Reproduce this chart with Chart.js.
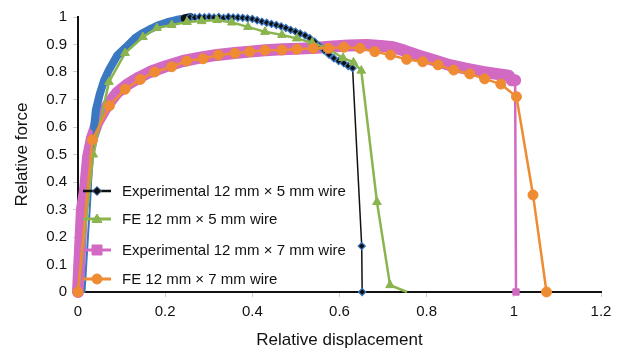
<!DOCTYPE html>
<html>
<head>
<meta charset="utf-8">
<script src="https://cdn.jsdelivr.net/npm/chart.js@4/dist/chart.umd.min.js"></script>
<style>
  html, body { margin: 0; padding: 0; background: #ffffff; }
  #wrap { width: 624px; height: 353px; }
</style>
</head>
<body>
<div id="wrap"><canvas id="c" width="624" height="353"></canvas></div>
<script>
// ---------------- data ----------------
const seriesLabels = [
  'Experimental 12 mm \u00d7 5 mm wire',
  'FE 12 mm \u00d7 5 mm wire',
  'Experimental 12 mm \u00d7 7 mm wire',
  'FE 12 mm \u00d7 7 mm wire'
];

const exp5X = [0.015, 0.022, 0.028, 0.033, 0.037, 0.041, 0.05, 0.06, 0.071, 0.09, 0.11, 0.13, 0.149, 0.168, 0.186, 0.205, 0.225, 0.245,
  0.257, 0.268, 0.279, 0.29, 0.301, 0.312, 0.323, 0.334, 0.345, 0.356, 0.367, 0.378, 0.389, 0.4, 0.411, 0.422, 0.433, 0.444, 0.455,
  0.466, 0.477, 0.488, 0.499, 0.51, 0.521, 0.532, 0.543, 0.554, 0.565, 0.576, 0.587, 0.598, 0.61, 0.62, 0.63, 0.651, 0.652];
const exp5Y = [0, 0.18, 0.33, 0.5, 0.6, 0.662, 0.72, 0.77, 0.807, 0.86, 0.89, 0.922, 0.942, 0.958, 0.971, 0.981, 0.989, 0.995,
  1.0, 0.998, 1.0, 0.999, 1.0, 0.998, 1.0, 0.997, 1.0, 0.998, 0.998, 0.997, 0.995, 0.993, 0.988, 0.983, 0.979, 0.975, 0.971,
  0.966, 0.96, 0.953, 0.947, 0.94, 0.933, 0.923, 0.91, 0.895, 0.878, 0.863, 0.85, 0.84, 0.832, 0.822, 0.814, 0.167, 0];

const fe5X = [0, 0.035, 0.071, 0.108, 0.149, 0.181, 0.215, 0.25, 0.284, 0.319, 0.353, 0.39, 0.429, 0.468, 0.502, 0.537, 0.573, 0.608, 0.632, 0.65, 0.686, 0.716, 0.755];
const fe5Y = [0, 0.5, 0.764, 0.869, 0.927, 0.96, 0.971, 0.982, 0.985, 0.989, 0.98, 0.964, 0.946, 0.935, 0.922, 0.907, 0.885, 0.851, 0.835, 0.805, 0.327, 0.025, 0];

const exp7X = [0, 0.009, 0.016, 0.023, 0.032, 0.044, 0.06, 0.075, 0.09, 0.112, 0.14, 0.165, 0.2, 0.241, 0.28, 0.319, 0.36, 0.394, 0.43, 0.47,
  0.51, 0.548, 0.585, 0.62, 0.662, 0.695, 0.723, 0.75, 0.777, 0.815, 0.853, 0.89, 0.929, 0.96, 0.988, 0.995, 1.003, 1.005];
const exp7Y = [0, 0.3, 0.37, 0.49, 0.56, 0.615, 0.66, 0.695, 0.725, 0.753, 0.78, 0.8, 0.82, 0.84, 0.852, 0.862, 0.869, 0.874, 0.879, 0.883,
  0.885, 0.888, 0.893, 0.896, 0.898, 0.895, 0.89, 0.877, 0.862, 0.844, 0.825, 0.812, 0.8, 0.793, 0.787, 0.77, 0.77, 0];

const fe7X = [0, 0.033, 0.072, 0.108, 0.143, 0.176, 0.215, 0.249, 0.287, 0.322, 0.36, 0.394, 0.429, 0.468, 0.502, 0.54, 0.575, 0.61,
  0.647, 0.681, 0.717, 0.754, 0.791, 0.826, 0.862, 0.899, 0.933, 0.97, 1.006, 1.044, 1.075];
const fe7Y = [0, 0.553, 0.677, 0.737, 0.773, 0.8, 0.819, 0.84, 0.848, 0.862, 0.868, 0.874, 0.879, 0.88, 0.883, 0.886, 0.886, 0.89,
  0.886, 0.874, 0.862, 0.846, 0.837, 0.826, 0.807, 0.793, 0.775, 0.756, 0.71, 0.353, 0];

const xTicks = [0, 0.2, 0.4, 0.6, 0.8, 1, 1.2];
const yTicks = [0, 0.1, 0.2, 0.3, 0.4, 0.5, 0.6, 0.7, 0.8, 0.9, 1];
const xTitle = 'Relative displacement';
const yTitle = 'Relative force';

// ---------------- styles ----------------
const BLACK = '#111111', BLUE = '#3a78c2', GREEN = '#8ab44d', PINK = '#d26ac3', ORANGE = '#ee8b33';
const FONT = '"Liberation Sans", Arial, sans-serif';

function pts(xs, ys) { return xs.map((x, i) => ({ x: x, y: ys[i] })); }

const datasets = [
  {
    label: seriesLabels[0], data: pts(exp5X, exp5Y), showLine: true, order: 2, clip: false,
    borderColor: BLACK, borderWidth: 1.5, borderCapStyle: 'round', borderJoinStyle: 'round',
    pointStyle: 'rectRot', pointBackgroundColor: BLACK, pointBorderColor: BLUE, pointBorderWidth: 1.2,
    pointRadius: ctx => (ctx.parsed && ctx.parsed.x >= 0.25 ? 3.6 : 0),
    segment: {
      borderColor: ctx => (ctx.p1.parsed.x <= 0.25 ? BLUE : BLACK),
      borderWidth: ctx => (ctx.p1.parsed.x <= 0.26 && ctx.p0.parsed.y >= 0.6 ? 8 : (ctx.p1.parsed.x <= 0.25 ? 2 : 1.5))
    }
  },
  {
    label: seriesLabels[1], data: pts(fe5X, fe5Y), showLine: true, order: 1, clip: false,
    borderColor: GREEN, borderWidth: 2.5,
    pointStyle: 'triangle', pointBackgroundColor: GREEN, pointBorderColor: GREEN, pointBorderWidth: 1,
    pointRadius: ctx => (ctx.dataIndex === 0 || ctx.dataIndex === fe5X.length - 1 ? 0 : 5)
  },
  {
    label: seriesLabels[2], data: pts(exp7X, exp7Y), showLine: true, order: 3, clip: false,
    borderColor: PINK, borderWidth: 12, borderCapStyle: 'round', borderJoinStyle: 'round',
    pointStyle: 'rect', pointBackgroundColor: PINK, pointBorderColor: PINK, pointBorderWidth: 1,
    pointRadius: ctx => (ctx.dataIndex === exp7X.length - 1 ? 4.5 : 0),
    segment: {
      borderWidth: ctx => (ctx.p1.parsed.y < 0.3 && ctx.p0.parsed.x > 0.5 ? 2.5 : 12)
    }
  },
  {
    label: seriesLabels[3], data: pts(fe7X, fe7Y), showLine: true, order: 0, clip: false,
    borderColor: ORANGE, borderWidth: 2.5,
    pointStyle: 'circle', pointBackgroundColor: ORANGE, pointBorderColor: ORANGE, pointBorderWidth: 1,
    pointRadius: 5
  }
];

const legendStyle = [
  { color: BLACK, lw: 2.5, marker: 'diamond', fill: BLACK, stroke: BLUE, r: 4.5 },
  { color: GREEN, lw: 3, marker: 'triangle', fill: GREEN, stroke: GREEN, r: 5 },
  { color: PINK, lw: 3, marker: 'square', fill: PINK, stroke: PINK, r: 5 },
  { color: ORANGE, lw: 3, marker: 'circle', fill: ORANGE, stroke: ORANGE, r: 5 }
];

const insideLegend = {
  id: 'insideLegend',
  afterDraw(chart) {
    const ctx = chart.ctx;
    const rows = [191, 219, 250, 279];
    const x0 = 83, x1 = 111, mx = 97, tx = 122;
    chart.data.datasets.forEach((ds, i) => {
      const s = legendStyle[i], y = rows[i];
      ctx.save();
      ctx.strokeStyle = s.color; ctx.lineWidth = s.lw;
      ctx.beginPath(); ctx.moveTo(x0, y); ctx.lineTo(x1, y); ctx.stroke();
      ctx.fillStyle = s.fill; ctx.strokeStyle = s.stroke; ctx.lineWidth = 1;
      ctx.beginPath();
      const r = s.r;
      if (s.marker === 'diamond') {
        ctx.moveTo(mx, y - r); ctx.lineTo(mx + r, y); ctx.lineTo(mx, y + r); ctx.lineTo(mx - r, y); ctx.closePath();
      } else if (s.marker === 'triangle') {
        ctx.moveTo(mx, y - r); ctx.lineTo(mx + r, y + r * 0.7); ctx.lineTo(mx - r, y + r * 0.7); ctx.closePath();
      } else if (s.marker === 'square') {
        ctx.rect(mx - r, y - r, 2 * r, 2 * r);
      } else {
        ctx.arc(mx, y, r, 0, Math.PI * 2);
      }
      ctx.fill(); ctx.stroke();
      ctx.fillStyle = '#111111';
      ctx.font = '15px ' + FONT;
      ctx.textBaseline = 'middle';
      ctx.textAlign = 'left';
      ctx.fillText(ds.label, tx, y + 1);
      ctx.restore();
    });
  }
};

new Chart(document.getElementById('c'), {
  type: 'scatter',
  data: { datasets: datasets },
  options: {
    responsive: false,
    animation: false,
    devicePixelRatio: 1,
    layout: { padding: { left: 0, right: 23, top: 17, bottom: 0 } },
    plugins: { legend: { display: false }, tooltip: { enabled: false } },
    scales: {
      x: {
        type: 'linear', min: 0, max: 1.2,
        afterBuildTicks: s => { s.ticks = xTicks.map(v => ({ value: v })); },
        afterFit: s => { s.height = 61; },
        border: { display: true, color: '#111111', width: 2 },
        grid: { drawOnChartArea: false, drawTicks: true, tickLength: 5, color: '#cfcfcf' },
        ticks: { color: '#111111', padding: 6, maxRotation: 0, font: { family: FONT, size: 15 }, callback: v => String(v) },
        title: { display: true, text: xTitle, color: '#111111', font: { family: FONT, size: 17 }, padding: { top: 4, bottom: 2 } }
      },
      y: {
        type: 'linear', min: 0, max: 1,
        afterBuildTicks: s => { s.ticks = yTicks.map(v => ({ value: v })); },
        afterFit: s => { s.width = 78; },
        border: { display: true, color: '#111111', width: 2 },
        grid: { drawOnChartArea: false, drawTicks: true, tickLength: 5, color: '#cfcfcf' },
        ticks: { color: '#111111', padding: 6, font: { family: FONT, size: 15 }, callback: v => String(v) },
        title: { display: true, text: yTitle, color: '#111111', font: { family: FONT, size: 17 }, padding: { top: 12, bottom: 4 } }
      }
    }
  },
  plugins: [insideLegend]
});
</script>
</body>
</html>
